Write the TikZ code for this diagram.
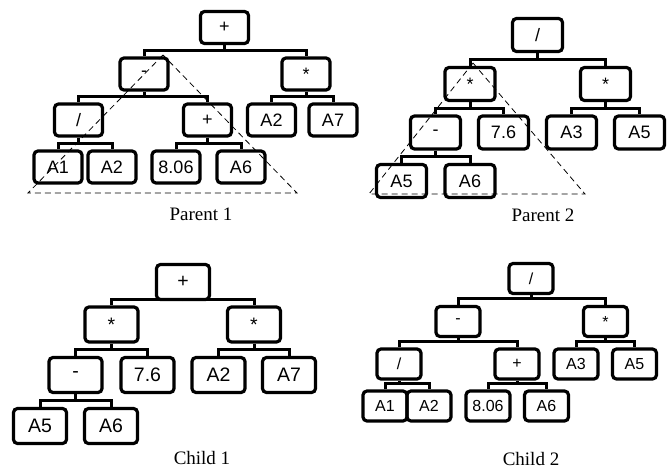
\documentclass[tikz,border=0pt]{standalone}
\usepackage{fontspec}
\setmainfont{Liberation Serif}
\newfontfamily\boxfont{Liberation Sans}
\usetikzlibrary{calc}

\tikzset{
  opbox/.style={draw, line width=3.2pt, rounded corners=4pt, inner sep=0pt},
  pone/.style={opbox, minimum width=48pt, minimum height=32pt, font=\boxfont\fontsize{18}{20}\selectfont},
  ptwo/.style={opbox, minimum width=50pt, minimum height=33pt, font=\boxfont\fontsize{18}{20}\selectfont},
  cone/.style={opbox, minimum width=53pt, minimum height=35pt, font=\boxfont\fontsize{19.5}{22}\selectfont},
  ctwo/.style={opbox, minimum width=44pt, minimum height=30pt, font=\boxfont\fontsize{16}{18}\selectfont},
  link/.style={line width=3pt},
  cut/.style={line width=0.8pt, dash pattern=on 6pt off 4pt},
  caption/.style={inner sep=0pt, font=\fontsize{19}{22}\selectfont}
}

% parent, left child, right child
\newcommand{\fork}[3]{%
  \draw[link] (#2.north) -- ++(0,-6) coordinate (#1bar) -| (#3.north);
  \draw[link] (#1.south) -- (#1.south |- #1bar);}

\begin{document}
\begin{tikzpicture}[x=1pt,y=-1pt]
 \useasboundingbox (0,0) rectangle (672,469);
 % parent 1
 \node[pone] (p1r) at (224.5,27.5) {+};
 \node[pone] (p1a) at (144,74) {-};
 \node[pone] (p1b) at (306,74) {*};
 \node[pone] (p1c) at (78.5,120) {/};
 \node[pone] (p1d) at (207.5,120) {+};
 \node[pone] (p1e) at (271.5,120) {A2};
 \node[pone] (p1f) at (333,120) {A7};
 \node[pone] (p1g) at (58,167) {A1};
 \node[pone] (p1h) at (112,167) {A2};
 \node[pone] (p1i) at (176,167) {8.06};
 \node[pone] (p1j) at (241,167) {A6};
 \fork{p1r}{p1a}{p1b}
 \fork{p1a}{p1c}{p1d}
 \fork{p1b}{p1e}{p1f}
 \fork{p1c}{p1g}{p1h}
 \fork{p1d}{p1i}{p1j}
 \coordinate (p1top) at (163,55);
 \coordinate (p1left) at (28,193);
 \coordinate (p1right) at (297,193);
 \draw[cut] (p1top) -- (p1left) -- (p1right) -- cycle;
 \node[caption] (p1cap) at (201,214) {Parent 1};
 % parent 2
 \node[ptwo] (p2r) at (537.5,35) {/};
 \node[ptwo] (p2a) at (470,84) {*};
 \node[ptwo] (p2b) at (605.5,84) {*};
 \node[ptwo] (p2c) at (435.5,132.5) {-};
 \node[ptwo] (p2d) at (503.5,132.5) {7.6};
 \node[ptwo] (p2e) at (571.5,132.5) {A3};
 \node[ptwo] (p2f) at (639.5,132.5) {A5};
 \node[ptwo] (p2g) at (401.5,181) {A5};
 \node[ptwo] (p2h) at (470,181) {A6};
 \fork{p2r}{p2a}{p2b}
 \fork{p2a}{p2c}{p2d}
 \fork{p2b}{p2e}{p2f}
 \fork{p2c}{p2g}{p2h}
 \coordinate (p2top) at (473,63);
 \coordinate (p2left) at (369,194);
 \coordinate (p2right) at (585,194);
 \draw[cut] (p2top) -- (p2left) -- (p2right) -- cycle;
 \node[caption] (p2cap) at (543,215) {Parent 2};
 % child 1
 \node[cone] (c1r) at (183,282) {+};
 \node[cone] (c1a) at (111.5,324.5) {*};
 \node[cone] (c1b) at (254,324.5) {*};
 \node[cone] (c1c) at (75.5,375) {-};
 \node[cone] (c1d) at (147.5,375) {7.6};
 \node[cone] (c1e) at (218.5,375) {A2};
 \node[cone] (c1f) at (289,375) {A7};
 \node[cone] (c1g) at (40,426) {A5};
 \node[cone] (c1h) at (111,426) {A6};
 \fork{c1r}{c1a}{c1b}
 \fork{c1a}{c1c}{c1d}
 \fork{c1b}{c1e}{c1f}
 \fork{c1c}{c1g}{c1h}
 \node[caption] (c1cap) at (202,458) {Child 1};
 % child 2
 \node[ctwo] (c2r) at (531,278.5) {/};
 \node[ctwo] (c2a) at (458,321.5) {-};
 \node[ctwo] (c2b) at (605.5,321.5) {*};
 \node[ctwo] (c2c) at (399,364) {/};
 \node[ctwo] (c2d) at (517,364) {+};
 \node[ctwo] (c2e) at (576,364) {A3};
 \node[ctwo] (c2f) at (634.5,364) {A5};
 \node[ctwo] (c2g) at (385,406) {A1};
 \node[ctwo] (c2h) at (429,406) {A2};
 \node[ctwo] (c2i) at (488,406) {8.06};
 \node[ctwo] (c2j) at (546.5,406) {A6};
 \fork{c2r}{c2a}{c2b}
 \fork{c2a}{c2c}{c2d}
 \fork{c2b}{c2e}{c2f}
 \fork{c2c}{c2g}{c2h}
 \fork{c2d}{c2i}{c2j}
 \node[caption] (c2cap) at (531,459) {Child 2};
\end{tikzpicture}
\end{document}
